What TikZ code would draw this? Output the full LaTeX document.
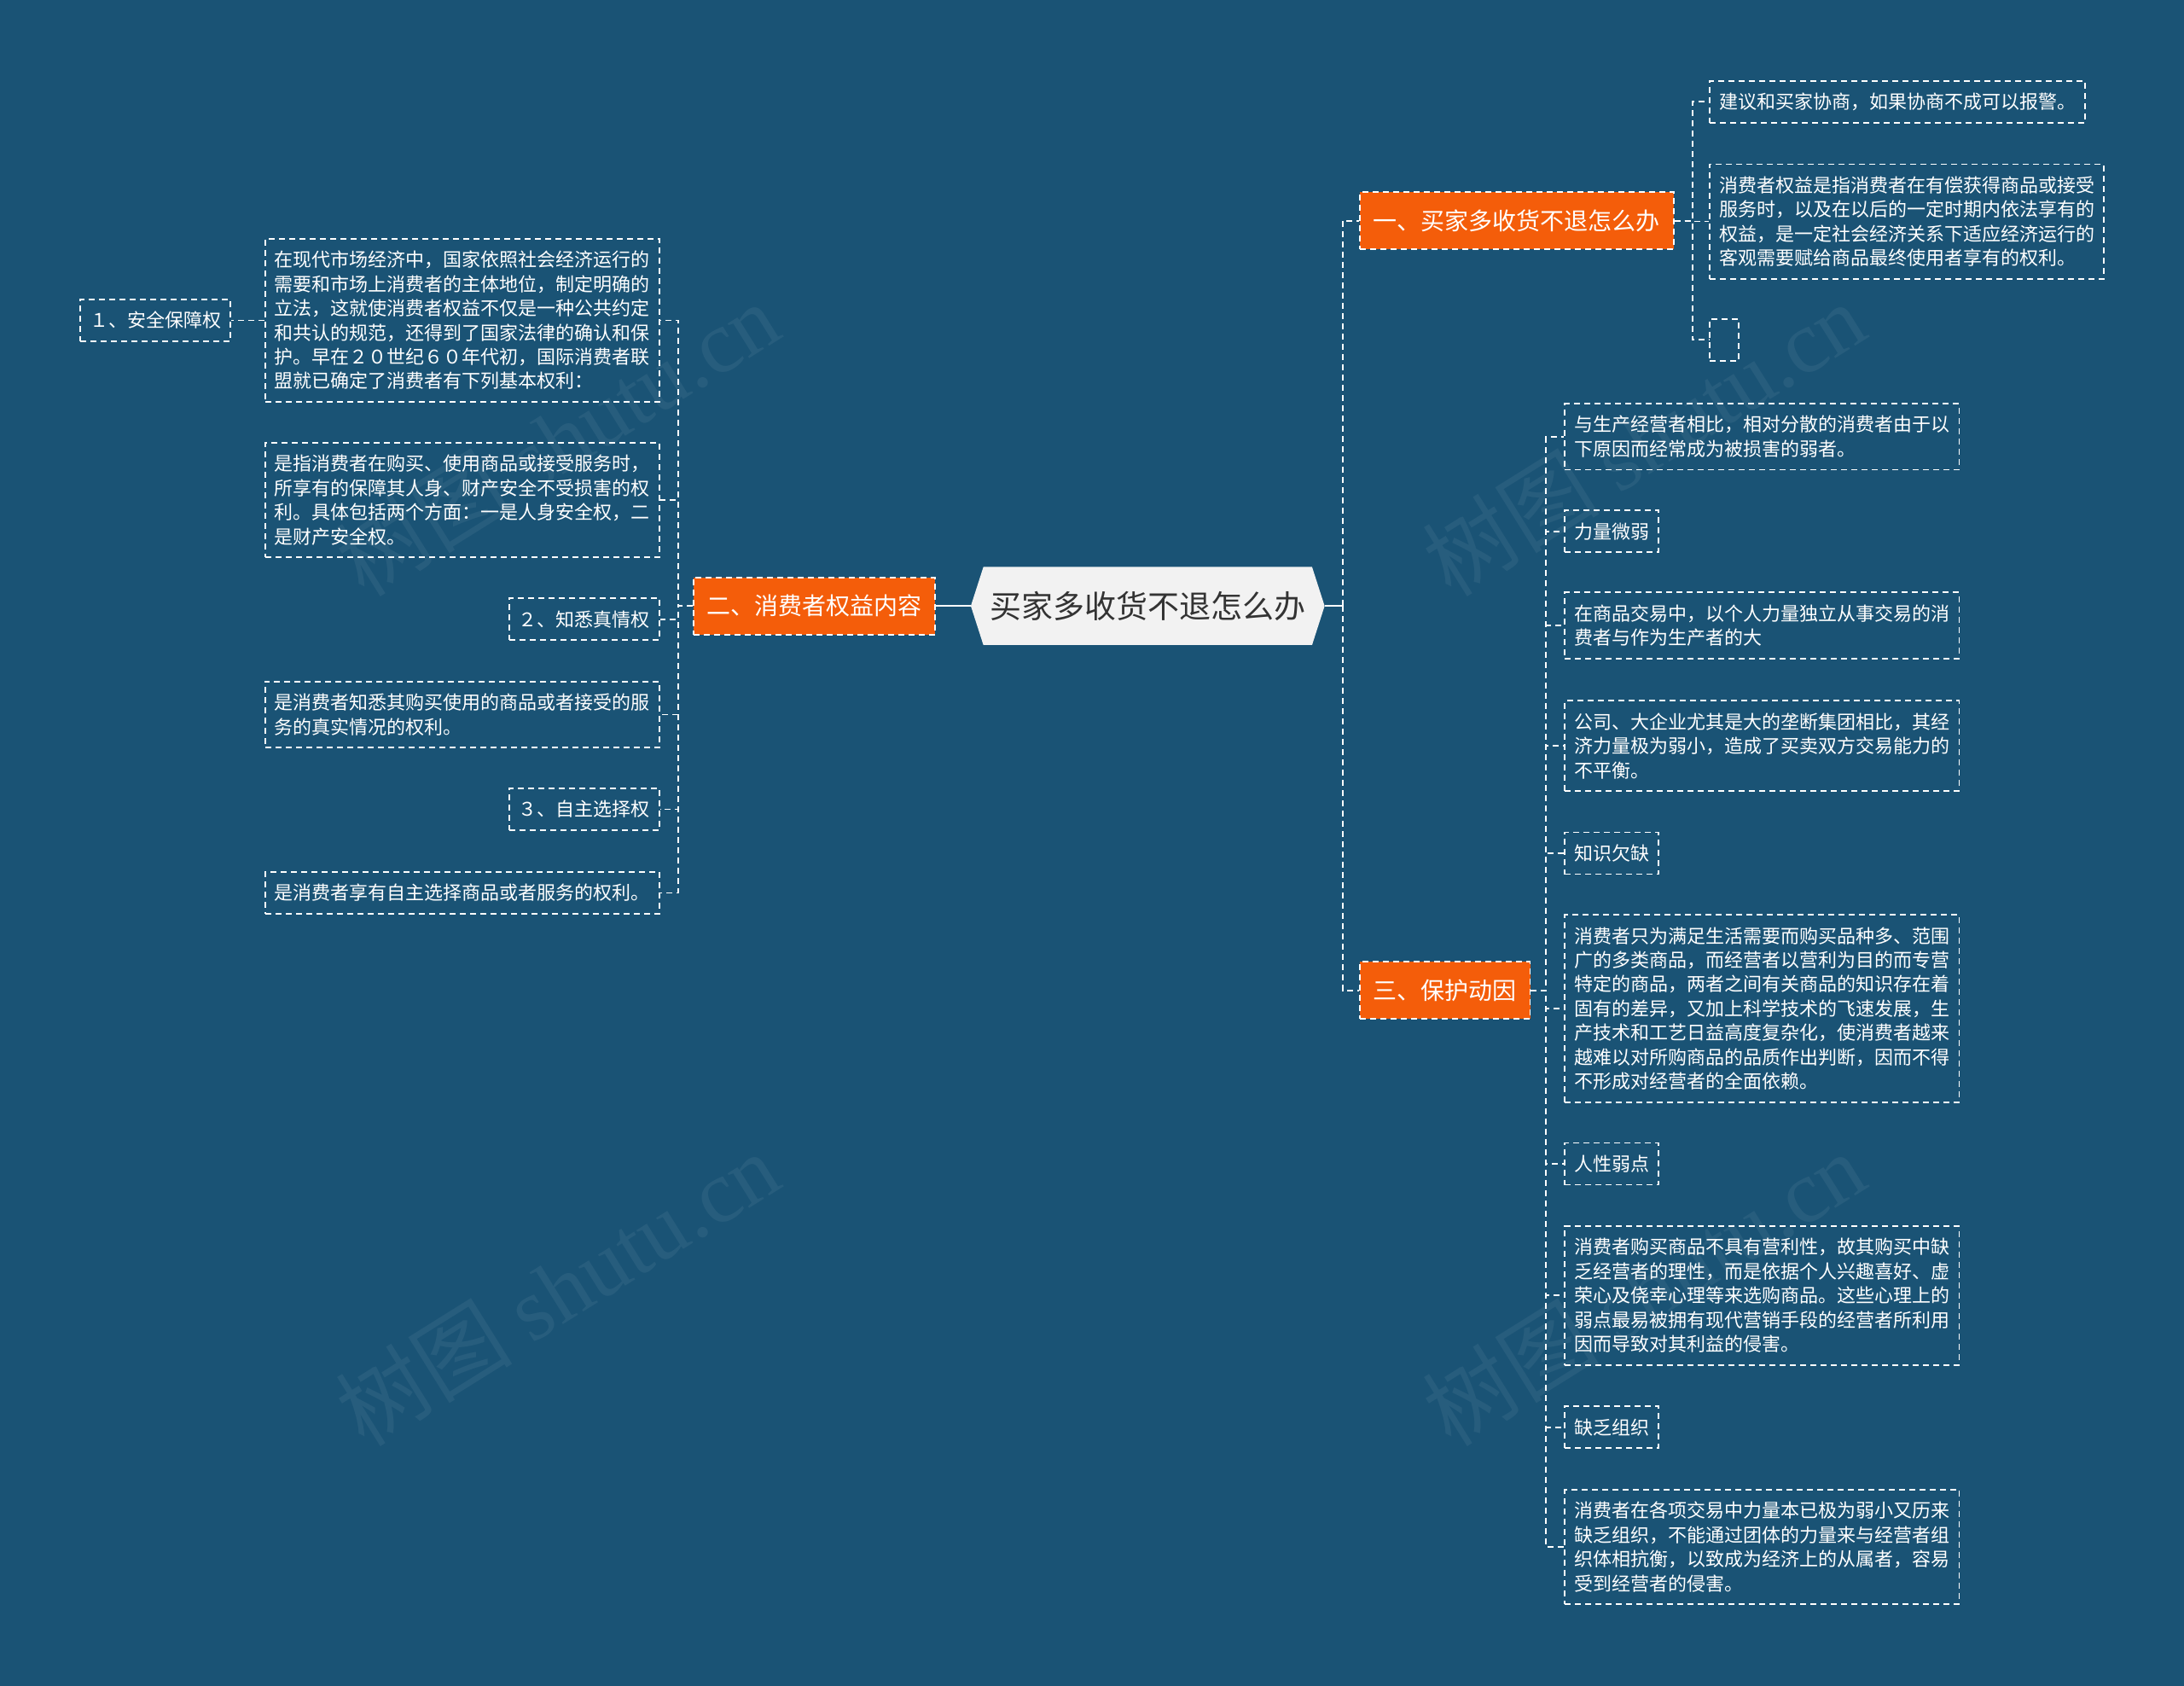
\documentclass[tikz,border=0pt]{standalone}
\usepackage{fontspec}
\setmainfont{Noto Sans CJK SC}
\newfontfamily\wmlatin{Liberation Serif}
\usetikzlibrary{calc}
\definecolor{bgblue}{RGB}{26,83,117}
\definecolor{orangefill}{RGB}{244,93,10}
\definecolor{centerfill}{RGB}{242,242,242}
\definecolor{centertext}{RGB}{51,51,51}
\tikzset{
  dashline/.style={draw=white, line width=0.9pt, dash pattern=on 3.5pt off 2.5pt},
  conn/.style={dashline},
  solidc/.style={draw=white, line width=1.1pt},
  tbox/.style={dashline, text=white, inner xsep=5.5pt, inner ysep=1pt, align=left,
    font=\fontsize{11pt}{14.2pt}\selectfont},
  la/.style={tbox, minimum height=24.5pt},
  lb/.style={tbox, minimum height=38.7pt},
  lc/.style={tbox, minimum height=52.9pt},
  ld/.style={tbox, minimum height=67.1pt},
  le/.style={tbox, minimum height=81.3pt},
  lf/.style={tbox, minimum height=95.5pt},
  lg/.style={tbox, minimum height=109.7pt},
  obox/.style={dashline, fill=orangefill, text=white, inner xsep=7.8pt, inner ysep=1pt,
    minimum height=33.5pt, font=\fontsize{14pt}{17pt}\selectfont},
  wm/.style={text=white, opacity=0.06, rotate=32, font=\fontsize{52pt}{52pt}\selectfont}
}
\begin{document}
\begin{tikzpicture}[x=0.8163pt,y=-0.8163pt]
\fill[bgblue] (0,0) rectangle (1568,1210);
\useasboundingbox (0,0) rectangle (1568,1210);

% watermarks
\node[wm] (wm1) at (400,315) {树图 {\wmlatin shutu.cn}};
\node[wm] (wm2) at (400,925) {树图 {\wmlatin shutu.cn}};
\node[wm] (wm3) at (1180,315) {树图 {\wmlatin shutu.cn}};
\node[wm] (wm4) at (1180,925) {树图 {\wmlatin shutu.cn}};

% central node
\fill[centerfill] (697,435) -- (706,407) -- (942,407) -- (951,435) -- (942,463) -- (706,463) -- cycle;
\node[minimum width=207.3pt, minimum height=45.7pt, inner sep=0pt, text=centertext,
  font=\fontsize{18.5pt}{20pt}\selectfont] (c) at (824,435) {买家多收货不退怎么办};

% level 1
\node[obox, anchor=west] (b1) at (976,158.5) {一、买家多收货不退怎么办};
\node[obox, anchor=east] (b2) at (672,435) {二、消费者权益内容};
\node[obox, anchor=west] (b3) at (976,711) {三、保护动因};

% children of b1
\node[la, anchor=west] (a1) at (1227,73) {建议和买家协商，如果协商不成可以报警。};
\node[ld, anchor=west] (a2) at (1227,159) {消费者权益是指消费者在有偿获得商品或接受\\服务时，以及在以后的一定时期内依法享有的\\权益，是一定社会经济关系下适应经济运行的\\客观需要赋给商品最终使用者享有的权利。};
\node[la, anchor=west, minimum width=17pt] (a3) at (1227,244) {};

% children of b2
\node[lf, anchor=east] (l1) at (474,230) {在现代市场经济中，国家依照社会经济运行的\\需要和市场上消费者的主体地位，制定明确的\\立法，这就使消费者权益不仅是一种公共约定\\和共认的规范，还得到了国家法律的确认和保\\护。早在２０世纪６０年代初，国际消费者联\\盟就已确定了消费者有下列基本权利：};
\node[la, anchor=east] (l0) at (166,230) {１、安全保障权};
\node[ld, anchor=east] (l2) at (474,359) {是指消费者在购买、使用商品或接受服务时，\\所享有的保障其人身、财产安全不受损害的权\\利。具体包括两个方面：一是人身安全权，二\\是财产安全权。};
\node[la, anchor=east] (l3) at (474,444.5) {２、知悉真情权};
\node[lb, anchor=east] (l4) at (474,513) {是消费者知悉其购买使用的商品或者接受的服\\务的真实情况的权利。};
\node[la, anchor=east] (l5) at (474,581) {３、自主选择权};
\node[la, anchor=east] (l6) at (474,641) {是消费者享有自主选择商品或者服务的权利。};

% children of b3
\node[lb, anchor=west] (r1) at (1123,313.5) {与生产经营者相比，相对分散的消费者由于以\\下原因而经常成为被损害的弱者。};
\node[la, anchor=west] (r2) at (1123,381.5) {力量微弱};
\node[lb, anchor=west] (r3) at (1123,449) {在商品交易中，以个人力量独立从事交易的消\\费者与作为生产者的大};
\node[lc, anchor=west] (r4) at (1123,535.5) {公司、大企业尤其是大的垄断集团相比，其经\\济力量极为弱小，造成了买卖双方交易能力的\\不平衡。};
\node[la, anchor=west] (r5) at (1123,612.5) {知识欠缺};
\node[lg, anchor=west] (r6) at (1123,724) {消费者只为满足生活需要而购买品种多、范围\\广的多类商品，而经营者以营利为目的而专营\\特定的商品，两者之间有关商品的知识存在着\\固有的差异，又加上科学技术的飞速发展，生\\产技术和工艺日益高度复杂化，使消费者越来\\越难以对所购商品的品质作出判断，因而不得\\不形成对经营者的全面依赖。};
\node[la, anchor=west] (r7) at (1123,835.5) {人性弱点};
\node[le, anchor=west] (r8) at (1123,930) {消费者购买商品不具有营利性，故其购买中缺\\乏经营者的理性，而是依据个人兴趣喜好、虚\\荣心及侥幸心理等来选购商品。这些心理上的\\弱点最易被拥有现代营销手段的经营者所利用\\因而导致对其利益的侵害。};
\node[la, anchor=west] (r9) at (1123,1024.5) {缺乏组织};
\node[ld, anchor=west] (r10) at (1123,1110.5) {消费者在各项交易中力量本已极为弱小又历来\\缺乏组织，不能通过团体的力量来与经营者组\\织体相抗衡，以致成为经济上的从属者，容易\\受到经营者的侵害。};

% spine coordinates
\coordinate (sR) at (964,435);
\coordinate (sL) at (487,435);
\coordinate (s1) at (1215,158.5);
\coordinate (s3) at (1110,711);

% connectors
\draw[solidc] (b2.east) -- (c.west);
\draw[solidc] (c.east) -- (sR);
\draw[conn] (sR) |- (b1.west);
\draw[conn] (sR) |- (b3.west);

\foreach \ch in {a1,a2,a3} { \draw[conn] (b1.east) -- (s1) |- (\ch.west); }
\foreach \ch in {l1,l2,l3,l4,l5,l6} { \draw[conn] (b2.west) -- (sL) |- (\ch.east); }
\draw[conn] (l1.west) -- (l0.east);
\foreach \ch in {r1,r2,r3,r4,r5,r6,r7,r8,r9,r10} { \draw[conn] (b3.east) -- (s3) |- (\ch.west); }
\end{tikzpicture}
\end{document}
